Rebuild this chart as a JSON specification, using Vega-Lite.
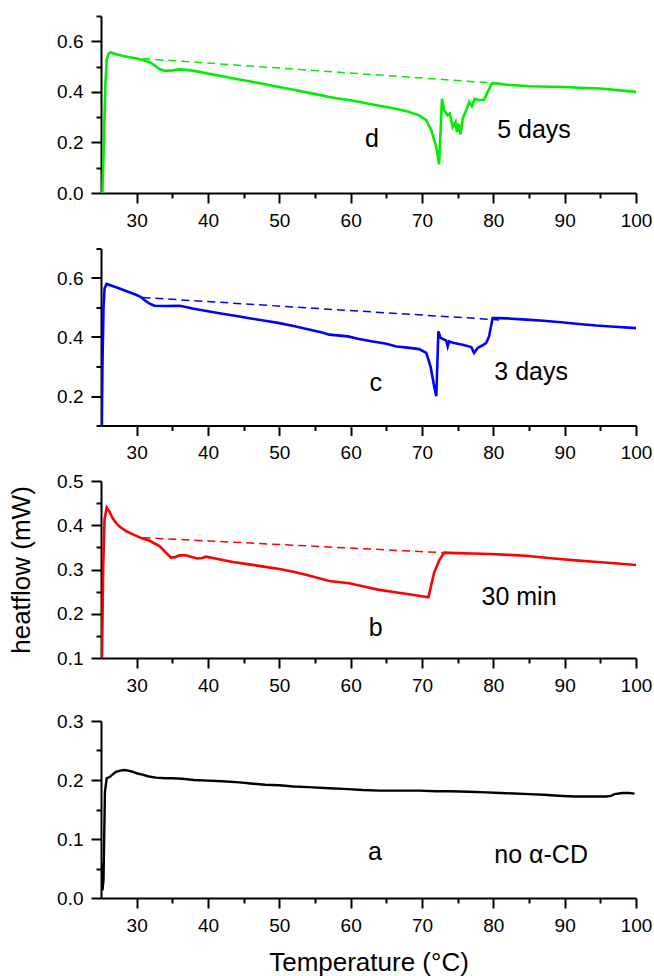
{
  "$schema": "https://vega.github.io/schema/vega-lite/v6.json",
  "padding": {"left": 8, "top": 15, "right": 5, "bottom": 5},
  "spacing": 17,
  "config": {
    "view": {"stroke": null},
    "font": "Liberation Sans",
    "axis": {
      "grid": false,
      "domainColor": "#000000",
      "domainWidth": 2,
      "tickColor": "#000000",
      "tickWidth": 2,
      "tickSize": 10,
      "labelFont": "Liberation Sans",
      "labelFontSize": 19,
      "labelColor": "#000000",
      "labelPadding": 8,
      "labelFlush": false,
      "labelOverlap": false,
      "titleFont": "Liberation Sans",
      "titleFontSize": 26,
      "titleFontWeight": "normal",
      "titleColor": "#000000"
    },
    "text": {"font": "Liberation Sans", "fontSize": 25, "color": "#000000"}
  },
  "datasets": {
    "dLine": [
      {"T":25.2,"v":0.0},{"T":25.4,"v":0.2},{"T":25.6,"v":0.42},{"T":25.8,"v":0.53},{"T":26.1,"v":0.552},{"T":26.4,"v":0.556},
      {"T":27,"v":0.55},{"T":28,"v":0.543},{"T":29,"v":0.537},{"T":30,"v":0.532},{"T":31,"v":0.525},{"T":31.8,"v":0.518},
      {"T":32.5,"v":0.505},{"T":33.2,"v":0.49},{"T":34,"v":0.483},{"T":35,"v":0.485},{"T":36,"v":0.489},{"T":37,"v":0.487},
      {"T":38,"v":0.483},{"T":39,"v":0.478},{"T":40,"v":0.472},{"T":42,"v":0.462},{"T":44,"v":0.451},{"T":46,"v":0.441},
      {"T":48,"v":0.43},{"T":50,"v":0.419},{"T":52,"v":0.408},{"T":54,"v":0.397},{"T":56,"v":0.386},{"T":57,"v":0.38},
      {"T":58,"v":0.375},{"T":60,"v":0.367},{"T":62,"v":0.356},{"T":64,"v":0.345},{"T":66,"v":0.335},{"T":68,"v":0.322},
      {"T":69.6,"v":0.307},{"T":70.6,"v":0.288},{"T":71.3,"v":0.248},{"T":72,"v":0.182},{"T":72.4,"v":0.114},{"T":72.8,"v":0.373},
      {"T":73.1,"v":0.327},{"T":73.6,"v":0.307},{"T":73.9,"v":0.314},{"T":74.3,"v":0.261},{"T":74.7,"v":0.281},{"T":74.9,"v":0.241},
      {"T":75.1,"v":0.274},{"T":75.4,"v":0.232},{"T":75.7,"v":0.294},{"T":76.2,"v":0.327},{"T":76.6,"v":0.36},{"T":77,"v":0.343},
      {"T":77.4,"v":0.373},{"T":78,"v":0.367},{"T":78.7,"v":0.369},{"T":79.2,"v":0.4},{"T":79.8,"v":0.433},{"T":80.4,"v":0.434},
      {"T":82,"v":0.428},{"T":84,"v":0.424},{"T":85,"v":0.422},{"T":88,"v":0.42},{"T":90,"v":0.419},{"T":92,"v":0.416},
      {"T":95,"v":0.413},{"T":97,"v":0.408},{"T":100,"v":0.4}
    ],
    "dDash": [{"T":30.8,"v":0.532},{"T":80,"v":0.435}],
    "dText": [{"T":63.0,"v":0.182,"label":"d"},{"T":85.7,"v":0.219,"label":"5 days"}],
    "cLine": [
      {"T":25.1,"v":0.05},{"T":25.2,"v":0.3},{"T":25.35,"v":0.5},{"T":25.5,"v":0.565},{"T":25.8,"v":0.58},{"T":26.5,"v":0.574},
      {"T":27.5,"v":0.565},{"T":28.5,"v":0.556},{"T":29.9,"v":0.543},{"T":30.6,"v":0.535},{"T":31.3,"v":0.521},{"T":32,"v":0.511},
      {"T":32.5,"v":0.506},{"T":34,"v":0.505},{"T":36,"v":0.506},{"T":36.9,"v":0.502},{"T":38,"v":0.496},{"T":40,"v":0.487},
      {"T":42,"v":0.479},{"T":44,"v":0.471},{"T":46,"v":0.463},{"T":48,"v":0.455},{"T":50,"v":0.447},{"T":52,"v":0.437},
      {"T":54,"v":0.426},{"T":56,"v":0.415},{"T":57,"v":0.408},{"T":59.6,"v":0.402},{"T":61,"v":0.394},{"T":63.1,"v":0.385},
      {"T":65,"v":0.377},{"T":66.4,"v":0.368},{"T":68,"v":0.364},{"T":69.6,"v":0.359},{"T":70.6,"v":0.346},{"T":71.2,"v":0.3},
      {"T":71.7,"v":0.233},{"T":72,"v":0.199},{"T":72.3,"v":0.419},{"T":72.6,"v":0.397},{"T":73.4,"v":0.388},{"T":73.6,"v":0.368},
      {"T":73.8,"v":0.385},{"T":74.5,"v":0.38},{"T":75.7,"v":0.374},{"T":76.9,"v":0.366},{"T":77.3,"v":0.346},{"T":77.8,"v":0.363},
      {"T":78.5,"v":0.372},{"T":79,"v":0.38},{"T":79.4,"v":0.402},{"T":79.9,"v":0.464},{"T":80.8,"v":0.464},{"T":82,"v":0.463},
      {"T":84.6,"v":0.459},{"T":87,"v":0.455},{"T":89.5,"v":0.45},{"T":92,"v":0.444},{"T":94.4,"v":0.439},{"T":97,"v":0.435},
      {"T":100,"v":0.43}
    ],
    "cDash": [{"T":30.8,"v":0.534},{"T":80.8,"v":0.458}],
    "cText": [{"T":63.5,"v":0.216,"label":"c"},{"T":85.3,"v":0.255,"label":"3 days"}],
    "bLine": [
      {"T":25.1,"v":0.05},{"T":25.3,"v":0.3},{"T":25.5,"v":0.414},{"T":25.8,"v":0.44},{"T":26.2,"v":0.43},{"T":26.6,"v":0.417},
      {"T":27.1,"v":0.405},{"T":27.6,"v":0.397},{"T":28.5,"v":0.387},{"T":29.4,"v":0.38},{"T":30.5,"v":0.372},{"T":31.8,"v":0.365},
      {"T":33.2,"v":0.353},{"T":34.1,"v":0.338},{"T":34.8,"v":0.327},{"T":35.4,"v":0.328},{"T":36,"v":0.332},{"T":36.9,"v":0.332},
      {"T":37.7,"v":0.328},{"T":38.5,"v":0.325},{"T":39.2,"v":0.326},{"T":39.7,"v":0.329},{"T":41,"v":0.325},{"T":43.5,"v":0.317},
      {"T":46,"v":0.311},{"T":48,"v":0.306},{"T":50,"v":0.301},{"T":52,"v":0.295},{"T":54,"v":0.287},{"T":57,"v":0.274},
      {"T":59.8,"v":0.269},{"T":62,"v":0.261},{"T":64,"v":0.254},{"T":66,"v":0.249},{"T":68.2,"v":0.244},{"T":70.9,"v":0.237},
      {"T":71.3,"v":0.265},{"T":71.7,"v":0.293},{"T":72.4,"v":0.32},{"T":73.1,"v":0.338},{"T":74.8,"v":0.337},{"T":77,"v":0.336},
      {"T":79.7,"v":0.335},{"T":82,"v":0.333},{"T":84.6,"v":0.331},{"T":87,"v":0.327},{"T":89.7,"v":0.323},{"T":92,"v":0.32},
      {"T":94.6,"v":0.317},{"T":97,"v":0.314},{"T":100,"v":0.31}
    ],
    "bDash": [{"T":30.8,"v":0.372},{"T":72.9,"v":0.338}],
    "bText": [{"T":63.5,"v":0.149,"label":"b"},{"T":83.6,"v":0.22,"label":"30 min"}],
    "aLine": [
      {"T":25.05,"v":0.06},{"T":25.2,"v":0.013},{"T":25.35,"v":0.03},{"T":25.55,"v":0.18},{"T":25.8,"v":0.203},{"T":26.2,"v":0.205},
      {"T":26.6,"v":0.209},{"T":27.1,"v":0.214},{"T":27.7,"v":0.216},{"T":28.3,"v":0.217},{"T":28.8,"v":0.216},{"T":29.4,"v":0.214},
      {"T":30.1,"v":0.211},{"T":30.8,"v":0.209},{"T":31.7,"v":0.206},{"T":32.7,"v":0.204},{"T":34,"v":0.203},{"T":35,"v":0.203},
      {"T":36.4,"v":0.202},{"T":38,"v":0.2},{"T":40,"v":0.199},{"T":42,"v":0.198},{"T":44.4,"v":0.196},{"T":46,"v":0.194},
      {"T":48,"v":0.192},{"T":50,"v":0.191},{"T":52,"v":0.189},{"T":54,"v":0.188},{"T":57,"v":0.186},{"T":59,"v":0.185},
      {"T":61.7,"v":0.183},{"T":64,"v":0.182},{"T":67,"v":0.182},{"T":69.6,"v":0.182},{"T":72,"v":0.181},{"T":74,"v":0.181},
      {"T":76.6,"v":0.18},{"T":79,"v":0.179},{"T":81,"v":0.178},{"T":83,"v":0.177},{"T":85,"v":0.176},{"T":87,"v":0.175},
      {"T":89.7,"v":0.173},{"T":91.5,"v":0.172},{"T":93.9,"v":0.172},{"T":95.8,"v":0.172},{"T":96.5,"v":0.173},{"T":97,"v":0.176},
      {"T":98.1,"v":0.178},{"T":99,"v":0.178},{"T":99.8,"v":0.177}
    ],
    "aText": [{"T":63.4,"v":0.064,"label":"a"},{"T":86.7,"v":0.06,"label":"no α-CD"}]
  },
  "vconcat": [
    {
      "spacing": 55.5,
      "bounds": "flush",
      "vconcat": [
        {
          "width": 535, "height": 177,
          "resolve": {"axis": {"x": "independent", "y": "independent"}},
          "layer": [
            {
              "data": {"name": "dLine"},
              "mark": {"type": "line", "color": "#00ee00", "strokeWidth": 2.6, "clip": true},
              "encoding": {
                "x": {"field": "T", "type": "quantitative", "scale": {"domain": [25, 100], "nice": false, "zero": false},
                      "axis": {"values": [30,40,50,60,70,80,90,100], "format": "d", "title": null}},
                "y": {"field": "v", "type": "quantitative", "scale": {"domain": [0, 0.7], "nice": false, "zero": false},
                      "axis": {"values": [0,0.2,0.4,0.6], "format": ".1f", "title": null}}
              }
            },
            {
              "data": {"name": "dDash"},
              "mark": {"type": "line", "color": "#00ee00", "strokeWidth": 1.5, "strokeDash": [8, 5]},
              "encoding": {
                "x": {"field": "T", "type": "quantitative", "scale": {"domain": [25, 100], "nice": false, "zero": false}, "axis": null},
                "y": {"field": "v", "type": "quantitative", "scale": {"domain": [0, 0.7], "nice": false, "zero": false}, "axis": null}
              }
            },
            {
              "data": {"name": "dText"},
              "mark": {"type": "text", "align": "center", "baseline": "alphabetic"},
              "encoding": {
                "x": {"field": "T", "type": "quantitative", "scale": {"domain": [25, 100], "nice": false, "zero": false},
                      "axis": {"orient": "bottom", "values": [35,45,55,65,75,85,95], "labels": false, "domain": false, "tickSize": 5, "title": null}},
                "y": {"field": "v", "type": "quantitative", "scale": {"domain": [0, 0.7], "nice": false, "zero": false},
                      "axis": {"orient": "left", "values": [0.1,0.3,0.5,0.7], "labels": false, "domain": false, "tickSize": 5, "title": null}},
                "text": {"field": "label"}
              }
            }
          ]
        },
        {
          "width": 535, "height": 177,
          "resolve": {"axis": {"x": "independent", "y": "independent"}},
          "layer": [
            {
              "data": {"name": "cLine"},
              "mark": {"type": "line", "color": "#0000ff", "strokeWidth": 2.6, "clip": true},
              "encoding": {
                "x": {"field": "T", "type": "quantitative", "scale": {"domain": [25, 100], "nice": false, "zero": false},
                      "axis": {"values": [30,40,50,60,70,80,90,100], "format": "d", "title": null}},
                "y": {"field": "v", "type": "quantitative", "scale": {"domain": [0.1, 0.7], "nice": false, "zero": false},
                      "axis": {"values": [0.2,0.4,0.6], "format": ".1f", "title": null}}
              }
            },
            {
              "data": {"name": "cDash"},
              "mark": {"type": "line", "color": "#0000ff", "strokeWidth": 1.5, "strokeDash": [8, 5]},
              "encoding": {
                "x": {"field": "T", "type": "quantitative", "scale": {"domain": [25, 100], "nice": false, "zero": false}, "axis": null},
                "y": {"field": "v", "type": "quantitative", "scale": {"domain": [0.1, 0.7], "nice": false, "zero": false}, "axis": null}
              }
            },
            {
              "data": {"name": "cText"},
              "mark": {"type": "text", "align": "center", "baseline": "alphabetic"},
              "encoding": {
                "x": {"field": "T", "type": "quantitative", "scale": {"domain": [25, 100], "nice": false, "zero": false},
                      "axis": {"orient": "bottom", "values": [35,45,55,65,75,85,95], "labels": false, "domain": false, "tickSize": 5, "title": null}},
                "y": {"field": "v", "type": "quantitative", "scale": {"domain": [0.1, 0.7], "nice": false, "zero": false},
                      "axis": {"orient": "left", "values": [0.1,0.3,0.5,0.7], "labels": false, "domain": false, "tickSize": 5, "title": null}},
                "text": {"field": "label"}
              }
            }
          ]
        },
        {
          "width": 535, "height": 177,
          "resolve": {"axis": {"x": "independent", "y": "independent"}},
          "layer": [
            {
              "data": {"name": "bLine"},
              "mark": {"type": "line", "color": "#ff0000", "strokeWidth": 2.6, "clip": true},
              "encoding": {
                "x": {"field": "T", "type": "quantitative", "scale": {"domain": [25, 100], "nice": false, "zero": false},
                      "axis": {"values": [30,40,50,60,70,80,90,100], "format": "d", "title": null}},
                "y": {"field": "v", "type": "quantitative", "scale": {"domain": [0.1, 0.5], "nice": false, "zero": false},
                      "axis": {"values": [0.1,0.2,0.3,0.4,0.5], "format": ".1f", "title": "heatflow (mW)", "titlePadding": 22}}
              }
            },
            {
              "data": {"name": "bDash"},
              "mark": {"type": "line", "color": "#ff0000", "strokeWidth": 1.5, "strokeDash": [8, 5]},
              "encoding": {
                "x": {"field": "T", "type": "quantitative", "scale": {"domain": [25, 100], "nice": false, "zero": false}, "axis": null},
                "y": {"field": "v", "type": "quantitative", "scale": {"domain": [0.1, 0.5], "nice": false, "zero": false}, "axis": null}
              }
            },
            {
              "data": {"name": "bText"},
              "mark": {"type": "text", "align": "center", "baseline": "alphabetic"},
              "encoding": {
                "x": {"field": "T", "type": "quantitative", "scale": {"domain": [25, 100], "nice": false, "zero": false},
                      "axis": {"orient": "bottom", "values": [35,45,55,65,75,85,95], "labels": false, "domain": false, "tickSize": 5, "title": null}},
                "y": {"field": "v", "type": "quantitative", "scale": {"domain": [0.1, 0.5], "nice": false, "zero": false},
                      "axis": {"orient": "left", "values": [0.15,0.25,0.35,0.45], "labels": false, "domain": false, "tickSize": 5, "title": null}},
                "text": {"field": "label"}
              }
            }
          ]
        }
      ]
    },
    {
      "width": 535, "height": 177,
      "resolve": {"axis": {"x": "independent", "y": "independent"}},
      "layer": [
        {
          "data": {"name": "aLine"},
          "mark": {"type": "line", "color": "#000000", "strokeWidth": 2.4, "clip": true},
          "encoding": {
            "x": {"field": "T", "type": "quantitative", "scale": {"domain": [25, 100], "nice": false, "zero": false},
                  "axis": {"values": [30,40,50,60,70,80,90,100], "format": "d", "title": "Temperature (°C)", "titlePadding": 14}},
            "y": {"field": "v", "type": "quantitative", "scale": {"domain": [0, 0.3], "nice": false, "zero": false},
                  "axis": {"values": [0,0.1,0.2,0.3], "format": ".1f", "title": null}}
          }
        },
        {
          "data": {"name": "aText"},
          "mark": {"type": "text", "align": "center", "baseline": "alphabetic"},
          "encoding": {
            "x": {"field": "T", "type": "quantitative", "scale": {"domain": [25, 100], "nice": false, "zero": false},
                  "axis": {"orient": "bottom", "values": [35,45,55,65,75,85,95], "labels": false, "domain": false, "tickSize": 5, "title": null}},
            "y": {"field": "v", "type": "quantitative", "scale": {"domain": [0, 0.3], "nice": false, "zero": false},
                  "axis": {"orient": "left", "values": [0.05,0.15,0.25], "labels": false, "domain": false, "tickSize": 5, "title": null}},
            "text": {"field": "label"}
          }
        }
      ]
    }
  ]
}
